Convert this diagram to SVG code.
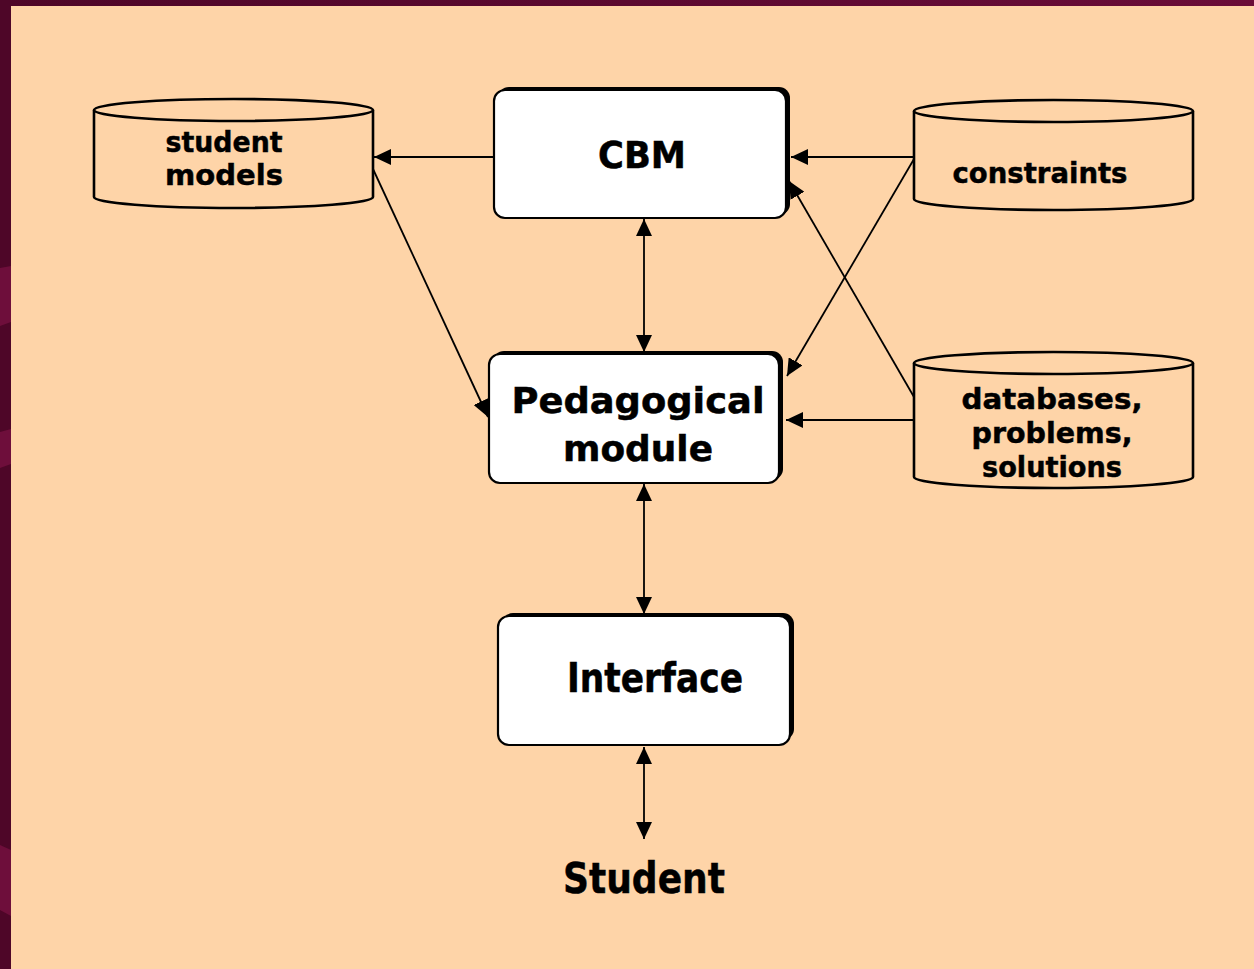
<svg xmlns="http://www.w3.org/2000/svg" width="1254" height="969" viewBox="0 0 1254 969">
<defs>
<linearGradient id="topband" x1="0" y1="0" x2="1" y2="0">
<stop offset="0" stop-color="#4E0628"/>
<stop offset="1" stop-color="#6A0C38"/>
</linearGradient>
<marker id="ah" viewBox="0 0 17 16" refX="17" refY="8" markerWidth="17" markerHeight="16" markerUnits="userSpaceOnUse" orient="auto-start-reverse">
<path d="M0,0 L17,8 L0,16 z" fill="#000"/>
</marker>
</defs>
<style>
.lbl{font-family:"DejaVu Sans","Liberation Sans",sans-serif;font-weight:bold;fill:#000;stroke:#000;stroke-width:0.5;}
.box{fill:#fff;stroke:#000;stroke-width:2.2;}
.shadow{fill:#000;}
.cyl{fill:#FED4A8;stroke:#000;stroke-width:2.6;}
.conn{stroke:#000;stroke-width:1.8;fill:none;}
</style>
<!-- background -->
<rect x="0" y="0" width="1254" height="969" fill="#FED4A8"/>
<rect x="0" y="0" width="1254" height="6" fill="url(#topband)"/>
<rect x="0" y="0" width="11" height="969" fill="#4E0628"/>
<path d="M0,268 L11,266 L11,322 L0,326 z" fill="#6E0E3B"/>
<path d="M0,432 L11,429 L11,464 L0,468 z" fill="#6E0E3B"/>
<path d="M0,845 L11,850 L11,916 L0,910 z" fill="#6E0E3B"/>

<g id="student-models">
<path class="cyl" d="M94,110 L94,197 A139.5,11 0 0 0 373,197 L373,110"/>
<ellipse class="cyl" cx="233.5" cy="110" rx="139.5" ry="11"/>
<text class="lbl" x="224" y="152" font-size="29" text-anchor="middle" textLength="117" lengthAdjust="spacingAndGlyphs">student</text>
<text class="lbl" x="224" y="185" font-size="29" text-anchor="middle" textLength="118" lengthAdjust="spacingAndGlyphs">models</text>
</g>

<g id="constraints">
<path class="cyl" d="M914,111 L914,199 A139.5,11 0 0 0 1193,199 L1193,111"/>
<ellipse class="cyl" cx="1053.5" cy="111" rx="139.5" ry="11"/>
<text class="lbl" x="1040" y="183" font-size="29" text-anchor="middle" textLength="175" lengthAdjust="spacingAndGlyphs">constraints</text>
</g>

<g id="databases">
<path class="cyl" d="M914,363 L914,477 A139.5,11 0 0 0 1193,477 L1193,363"/>
<ellipse class="cyl" cx="1053.5" cy="363" rx="139.5" ry="11"/>
<text class="lbl" x="1052" y="409" font-size="29" text-anchor="middle" textLength="181" lengthAdjust="spacingAndGlyphs">databases,</text>
<text class="lbl" x="1052" y="443" font-size="29" text-anchor="middle" textLength="161" lengthAdjust="spacingAndGlyphs">problems,</text>
<text class="lbl" x="1052" y="477" font-size="29" text-anchor="middle" textLength="140" lengthAdjust="spacingAndGlyphs">solutions</text>
</g>

<g id="cbm">
<rect class="shadow" x="498" y="87" width="292" height="128" rx="11"/>
<rect class="box" x="494" y="90" width="292" height="128" rx="11"/>
<text class="lbl" x="642" y="168" font-size="38" text-anchor="middle" textLength="88" lengthAdjust="spacingAndGlyphs">CBM</text>
</g>

<g id="pedagogical">
<rect class="shadow" x="493" y="351" width="290" height="129" rx="11"/>
<rect class="box" x="489" y="354" width="290" height="129" rx="11"/>
<text class="lbl" x="638" y="413" font-size="36" text-anchor="middle" textLength="253" lengthAdjust="spacingAndGlyphs">Pedagogical</text>
<text class="lbl" x="638" y="461" font-size="36" text-anchor="middle" textLength="150" lengthAdjust="spacingAndGlyphs">module</text>
</g>

<g id="interface">
<rect class="shadow" x="502" y="613" width="292" height="127" rx="11"/>
<rect class="box" x="498" y="616" width="292" height="129" rx="11"/>
<text class="lbl" x="655" y="692" font-size="40" text-anchor="middle" textLength="176" lengthAdjust="spacingAndGlyphs">Interface</text>
</g>

<g id="student">
<text class="lbl" x="644" y="893" font-size="43" text-anchor="middle" textLength="162" lengthAdjust="spacingAndGlyphs">Student</text>
</g>

<g id="connectors">
<line class="conn" x1="494" y1="157" x2="374" y2="157" marker-end="url(#ah)"/>
<line class="conn" x1="373" y1="169" x2="488" y2="417" marker-end="url(#ah)"/>
<line class="conn" x1="914" y1="157" x2="791" y2="157" marker-end="url(#ah)"/>
<line class="conn" x1="914" y1="159" x2="787" y2="376" marker-end="url(#ah)"/>
<line class="conn" x1="914" y1="397" x2="789" y2="181" marker-end="url(#ah)"/>
<line class="conn" x1="914" y1="420" x2="786" y2="420" marker-end="url(#ah)"/>
<line class="conn" x1="644" y1="219" x2="644" y2="352" marker-start="url(#ah)" marker-end="url(#ah)"/>
<line class="conn" x1="644" y1="484" x2="644" y2="614" marker-start="url(#ah)" marker-end="url(#ah)"/>
<line class="conn" x1="644" y1="747" x2="644" y2="839" marker-start="url(#ah)" marker-end="url(#ah)"/>
</g>
</svg>
